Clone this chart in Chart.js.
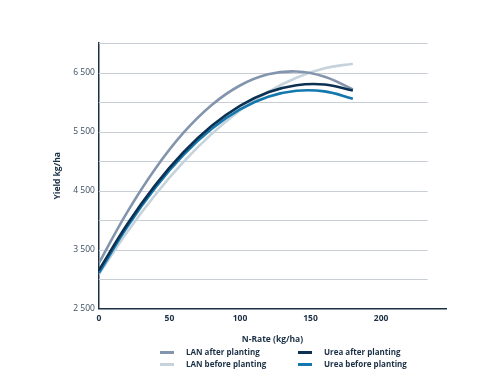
<!DOCTYPE html>
<html>
<head>
<meta charset="utf-8">
<script src="https://cdn.jsdelivr.net/npm/chart.js@4.4.1/dist/chart.umd.min.js"></script>
<style>
  html, body { margin: 0; padding: 0; background: #fff; }
  #wrap { position: relative; width: 500px; height: 392px; }
  #legend { position: absolute; left: 160px; top: 346px; width: 300px;
    font: 700 8px "Open Sans", sans-serif; color: #1b2f45; }
  .item { position: absolute; white-space: nowrap; }
  .item span.sw { position: absolute; left: 0; top: 5px; width: 14px; height: 2.5px; }
  .item span.tx { position: absolute; left: 26px; top: 0; }
</style>
</head>
<body>
<div id="wrap">
  <canvas id="chart" width="500" height="392"></canvas>
  <div id="legend"></div>
</div>
<script>
// N-rate (kg/ha)
var nRates = [0, 20, 40, 60, 80, 100, 120, 140, 160, 180]

// yield kg/ha
var lanAfter   = [3270, 4130, 4870, 5480, 5950, 6280, 6470, 6518, 6430, 6215]
var ureaAfter  = [3150, 3925, 4592, 5149, 5597, 5936, 6165, 6285, 6296, 6195]
var lanBefore  = [3080, 3794, 4429, 4984, 5460, 5857, 6174, 6412, 6571, 6650]
var ureaBefore = [3100, 3882, 4550, 5104, 5546, 5874, 6089, 6191, 6180, 6055]

var seriesNames = ["LAN after planting", "Urea after planting", "LAN before planting", "Urea before planting"]
var seriesColors = ["#8395ad", "#0c3152", "#c6d3dc", "#1477ad"]

var yTickLabels = [2500, 3500, 4500, 5500, 6500]

var ink = "#1b2f45"
var fontFam = "'Open Sans', sans-serif"

function pts(ys) {
  return nRates.map(function (x, i) { return {x: x, y: ys[i]} })
}

// horizontal grid lines stop short of the x axis end
var gridPlugin = {
  id: 'shortGrid',
  beforeDatasetsDraw: function (chart) {
    var ctx = chart.ctx, xs = chart.scales.x, ys = chart.scales.y
    var right = xs.getPixelForValue(233)
    ctx.save()
    ctx.strokeStyle = "#c8ced4"
    ctx.lineWidth = 1
    ys.ticks.forEach(function (t) {
      if (t.value <= ys.min) return
      var y = Math.round(ys.getPixelForValue(t.value)) + 0.5
      ctx.beginPath()
      ctx.moveTo(xs.left, y)
      ctx.lineTo(right, y)
      ctx.stroke()
    })
    ctx.restore()
  }
}

var allSeries = [lanAfter, ureaAfter, lanBefore, ureaBefore]
// draw order: light ones behind
var drawOrder = [2, 0, 3, 1]

var datasets = allSeries.map(function (s, i) {
  return {
    label: seriesNames[i],
    data: pts(s),
    borderColor: seriesColors[i],
    backgroundColor: seriesColors[i],
    borderWidth: 2.6,
    pointRadius: 0,
    tension: 0.4,
    fill: false,
    order: drawOrder[i]
  }
})

var ctx = document.getElementById('chart').getContext('2d')
var chart = new Chart(ctx, {
  type: 'line',
  data: { datasets: datasets },
  plugins: [gridPlugin],
  options: {
    responsive: false,
    animation: false,
    layout: { padding: { left: 48, right: 54, top: 43, bottom: 47 } },
    plugins: { legend: { display: false }, tooltip: { enabled: false } },
    scales: {
      x: {
        type: 'linear',
        min: 0,
        max: 246,
        afterBuildTicks: function (s) {
          s.ticks = s.ticks.filter(function (t) { return t.value % 50 === 0 && t.value <= 200 })
        },
        ticks: { stepSize: 50, padding: 5, color: ink, font: { family: fontFam, size: 8.5, weight: '700' } },
        grid: { display: false, drawTicks: false },
        border: { color: ink, width: 1.5 },
        title: { display: true, text: 'N-Rate (kg/ha)', color: ink,
          font: { family: fontFam, size: 8.5, weight: '700' }, padding: { top: 6, bottom: 0 } }
      },
      y: {
        min: 2500,
        max: 7000,
        ticks: {
          stepSize: 500,
          padding: 4,
          color: "#3b4d61",
          font: { family: fontFam, size: 8.5 },
          callback: function (v) {
            if (yTickLabels.indexOf(v) < 0) return ''
            return String(v).replace(/\B(?=(\d{3})+(?!\d))/g, ' ')
          }
        },
        grid: { display: false, drawTicks: false },
        border: { color: ink, width: 1.5 },
        title: { display: true, text: 'Yield kg/ha', color: ink,
          font: { family: fontFam, size: 8.5, weight: '700' }, padding: { top: 4, bottom: 7 } }
      }
    }
  }
})

// legend, two columns
var legend = document.getElementById('legend')
var cols = [0, 138]
var rows = [0, 12]
seriesNames.forEach(function (name, i) {
  var it = document.createElement('div')
  it.className = 'item'
  var col = (i === 0 || i === 2) ? 0 : 1
  var row = (i < 2) ? 0 : 1
  it.style.left = cols[col] + 'px'
  it.style.top = rows[row] + 'px'
  it.innerHTML = '<span class="sw" style="background:' + seriesColors[i] + '"></span><span class="tx">' + name + '</span>'
  legend.appendChild(it)
})
</script>
</body>
</html>
